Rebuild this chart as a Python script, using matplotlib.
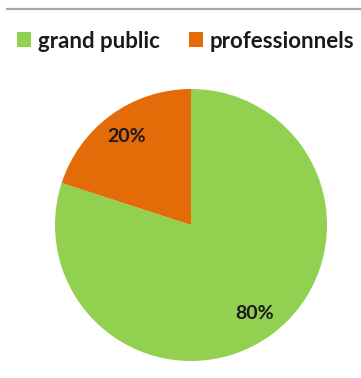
import matplotlib
matplotlib.use("Agg")
import matplotlib.pyplot as plt
from matplotlib.lines import Line2D

labels = ["grand public", "professionnels"]
shares = [80, 20]
colors = ["#92d050", "#e36c09"]

plt.rcParams['font.family'] = ['Lato', 'DejaVu Sans']

fig = plt.figure(figsize=(3.61, 3.78), dpi=100)

# pie centred at (191, 225) px, radius 136 px
ax = fig.add_axes([55 / 361, 17 / 378, 272 / 361, 272 / 378])
wedges, texts, autotexts = ax.pie(shares, colors=colors, startangle=90, counterclock=False,
                                  autopct='%1.0f%%', pctdistance=0.8, radius=1,
                                  wedgeprops=dict(linewidth=0),
                                  textprops=dict(fontsize=14, fontweight='bold', color='#1a1a1a'))
ax.set_xlim(-1, 1)
ax.set_ylim(-1, 1)
ax.set_aspect('equal')

# thin rule across the top
fig.add_artist(Line2D([7 / 361, 1], [1 - 8.5 / 378, 1 - 8.5 / 378], transform=fig.transFigure,
                      color='#a6a6a6', linewidth=1.6))

leg = fig.legend(wedges, labels, loc='center left', bbox_to_anchor=(17 / 361, 1 - 41 / 378), ncol=2,
                 frameon=False, handlelength=0.65, handleheight=0.65, handletextpad=0.3,
                 columnspacing=1.3, borderpad=0, borderaxespad=0, prop=dict(size=16, weight='bold'))
for t in leg.get_texts():
    t.set_color('#1a1a1a')

fig.savefig("out.png", dpi=100)
